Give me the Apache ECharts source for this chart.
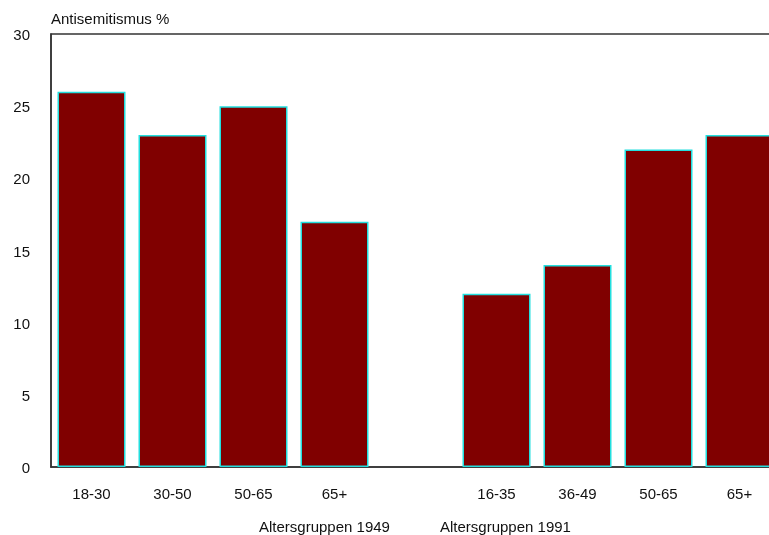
<!DOCTYPE html>
<html>
<head>
<meta charset="utf-8">
<script src="https://cdn.jsdelivr.net/npm/echarts@6/dist/echarts.min.js"></script>
<style>html,body{margin:0;padding:0;background:#fff;}#c{width:769px;height:535px;}</style>
</head>
<body>
<div id="c"></div>
<script>
const categories = ['18-30', '30-50', '50-65', '65+', '', '16-35', '36-49', '50-65', '65+'];
const values = [26, 23, 25, 17, null, 12, 14, 22, 23];
const yTicks = [0, 5, 10, 15, 20, 25, 30];
const groupLabels = ['Altersgruppen 1949', 'Altersgruppen 1991'];

const chart = echarts.init(document.getElementById('c'), null, {renderer: 'canvas'});
const font = 'Liberation Sans, Arial, Helvetica, sans-serif';
chart.setOption({
  animation: false,
  backgroundColor: '#fff',
  grid: {left: 51, top: 34, width: 729, height: 433, outerBoundsMode: 'none', containLabel: false,
         show: true, borderColor: '#333', borderWidth: 1.5, backgroundColor: 'transparent'},
  xAxis: {
    type: 'category',
    data: categories,
    axisLine: {show: true, lineStyle: {color: '#333', width: 1.5}},
    axisTick: {show: false},
    axisLabel: {color: '#111', fontSize: 15, fontFamily: font, margin: 20, interval: 0}
  },
  yAxis: {
    type: 'value',
    min: yTicks[0],
    max: yTicks[yTicks.length - 1],
    interval: 5,
    name: 'Antisemitismus %',
    nameLocation: 'end',
    nameGap: 7,
    nameTextStyle: {color: '#111', fontSize: 15, fontFamily: font, align: 'left', padding: [0, 0, 0, 0]},
    axisLine: {show: true, lineStyle: {color: '#333', width: 1.5}},
    axisTick: {show: false},
    splitLine: {show: false},
    axisLabel: {
      color: '#111', fontSize: 15, fontFamily: font, margin: 21,
      formatter: '{a|{value}}',
      rich: {a: {color: '#111', fontSize: 15, fontFamily: font, padding: [4, 0, 0, 0]}}
    }
  },
  series: [{
    type: 'bar',
    data: values,
    barWidth: 68,
    itemStyle: {color: '#800000', borderColor: '#22dede', borderWidth: 1.5}
  }],
  graphic: [
    {type: 'text', left: 259, top: 520, style: {text: groupLabels[0], fill: '#111', font: '15px ' + font}},
    {type: 'text', left: 440, top: 520, style: {text: groupLabels[1], fill: '#111', font: '15px ' + font}}
  ]
});
</script>
</body>
</html>
